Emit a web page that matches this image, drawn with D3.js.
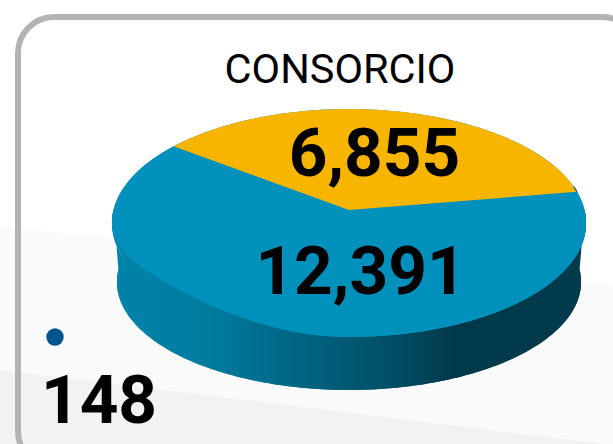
<!DOCTYPE html>
<html><head><meta charset="utf-8">
<script src="https://cdn.jsdelivr.net/npm/d3@7"></script>
<style>html,body{margin:0;padding:0;background:#fff;overflow:hidden}svg{display:block}</style>
</head><body><svg id="c" width="613" height="444"></svg>
<script>
const categories = ["B", "A", "C"];
const seriesValues = [12391, 6855, 148];
const labels = ["12,391", "6,855", "148"];
const title = "CONSORCIO";
const sliceColors = ["#0090bc", "#f7b500", "#00558f"];

const svg = d3.select("#c");
const defs = svg.append("defs");
const grad = defs.append("linearGradient").attr("id","wall").attr("gradientUnits","userSpaceOnUse")
  .attr("x1",112).attr("x2",586).attr("y1",0).attr("y2",0);
[[0,"#0084aa"],[0.2,"#007ba0"],[0.42,"#00627f"],[0.6,"#004d65"],[0.72,"#00394a"],[1,"#003a4b"]]
  .forEach(([o,c])=>grad.append("stop").attr("offset",o).attr("stop-color",c));

// background bands
svg.append("rect").attr("width",613).attr("height",444).attr("fill","#ffffff");
svg.append("path").attr("fill","#fafafa").attr("d","M0,227L613,285V444H0Z");
svg.append("path").attr("fill","#f2f2f2").attr("d","M0,370L613,445V444H0Z");
// card
svg.append("rect").attr("x",18).attr("y",17).attr("width",620).attr("height",450).attr("rx",36)
  .attr("fill","none").attr("stroke","#b3b3b3").attr("stroke-width",6);

// perspective projection of the pie disc
const cx=349, cy=210, k=0.114, a=112.5, b=235.5, frontLeftFlatten=13;
const proj=(ang,r,dy=0,sx=1,sy=1,flat=0)=>{
  const u=r*Math.sin(ang), v=-r*Math.cos(ang), w=1-k*v;
  const sag=(u<0&&v>0)?flat*Math.pow(2*u*v,2):0;
  return [cx+sx*b*u/w, cy+dy+sy*a*v/w-sag];
};
const line=d3.line();
const deg=Math.PI/180;
const start=-52.8*deg;
const pie=d3.pie().sort(null).startAngle(start).endAngle(start+2*Math.PI);
// order clockwise from the yellow edge: A, C, B
const order=[1,2,0];
const arcs=pie(order.map(i=>seriesValues[i]));
// calibrates the pie's angles to the slightly distorted 3D rendering
const warp=d3.scaleLinear().domain([start,arcs[1].endAngle,start+2*Math.PI]).range([start,80.5*deg,start+2*Math.PI]);
const ring=(a0,a1,dy,sx,sy,flat=0)=>d3.range(0,241).map(i=>proj(a0+(a1-a0)*i/240,1,dy,sx,sy,flat));

// wall
const DY=59.7,SX=0.979,SY=0.947;
svg.append("path").attr("d",line(ring(0,2*Math.PI,DY,SX,SY))+"Z").attr("fill","url(#wall)");
svg.append("path").attr("d",line(ring(Math.PI/2,3*Math.PI/2,0,1,1))+"Z").attr("fill","url(#wall)");
const near=ring(Math.PI/2,3*Math.PI/2,0,1,1).concat(ring(3*Math.PI/2,Math.PI/2,DY,SX,SY));
svg.append("path").attr("d",line(near)+"Z").attr("fill","url(#wall)");
// top: base disc gives the blue rim halo
const slicePath=(a0,a1,flat=0)=>line([proj(0,0)].concat(ring(warp(a0),warp(a1),0,1,1,flat)))+"Z";
svg.append("path").attr("d",slicePath(start,start+2*Math.PI,frontLeftFlatten)).attr("fill",sliceColors[0]);
svg.append("path").attr("d",slicePath(arcs[2].startAngle,arcs[2].endAngle,frontLeftFlatten)).attr("fill",sliceColors[order[2]]);
svg.append("path").attr("d",slicePath(arcs[0].startAngle,arcs[1].endAngle)).attr("fill",sliceColors[order[0]]);
// the small slice shows only as a sliver on the rim
svg.append("path").attr("d",line(ring(warp(arcs[1].startAngle),warp(arcs[1].endAngle),0,1,1)))
  .attr("fill","none").attr("stroke",sliceColors[order[1]]).attr("stroke-width",1.2);

const txt=(x,y,s,size,w,anchor)=>svg.append("text").attr("x",x).attr("y",y).text(s)
  .attr("font-family","Roboto").attr("font-size",size).attr("font-weight",w)
  .attr("text-anchor",anchor).attr("fill","#000");
txt(340,83,title,41.5,400,"middle");
txt(374.5,176,labels[1],67.5,700,"middle");
txt(360.5,294,labels[0],67.5,700,"middle");
svg.append("circle").attr("cx",55).attr("cy",337).attr("r",8.7).attr("fill",sliceColors[2]);
txt(99,423,labels[2],67.5,700,"middle");
</script></body></html>
